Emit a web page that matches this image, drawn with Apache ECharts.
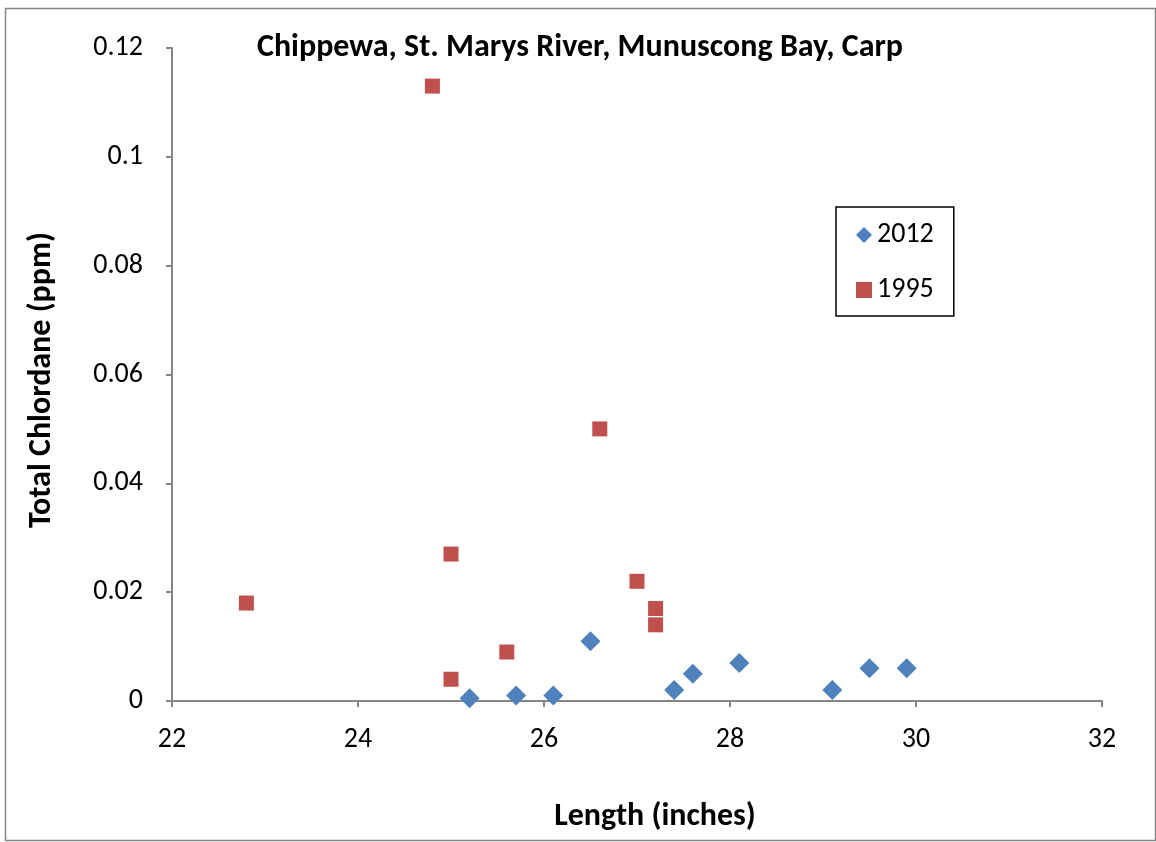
<!DOCTYPE html>
<html><head><meta charset="utf-8">
<script src="https://cdn.jsdelivr.net/npm/echarts@6/dist/echarts.min.js"></script>
<style>html,body{margin:0;padding:0;background:#fff}#c{width:1156px;height:842px}</style>
</head><body><div id="c"></div>
<script>
var titleText = 'Chippewa, St. Marys River, Munuscong Bay, Carp';
var xTitle = 'Length (inches)';
var yTitle = 'Total Chlordane (ppm)';
var len2012 = [25.2, 25.7, 26.1, 26.5, 27.4, 27.6, 28.1, 29.1, 29.5, 29.9];
var chl2012 = [0.0005, 0.001, 0.001, 0.011, 0.002, 0.005, 0.007, 0.002, 0.006, 0.006];
var len1995 = [22.8, 24.8, 25.0, 25.0, 25.6, 26.6, 27.0, 27.2, 27.2];
var chl1995 = [0.018, 0.113, 0.027, 0.004, 0.009, 0.050, 0.022, 0.017, 0.014];
var xTicks = {min: 22, max: 32, interval: 2};
var yTicks = {min: 0, max: 0.12, interval: 0.02};

function pairs(xs, ys){ return xs.map(function(x,i){ return [x, ys[i]]; }); }
var FONT = 'Carlito, Lato, "Open Sans", sans-serif';
var chart = echarts.init(document.getElementById('c'));
chart.setOption({
  animation: false,
  backgroundColor: '#fff',
  textStyle: {fontFamily: FONT},
  grid: {left: 172, right: 54, top: 48, bottom: 141, containLabel: false},
  xAxis: {type: 'value', min: xTicks.min, max: xTicks.max, interval: xTicks.interval,
    axisLine: {lineStyle: {color: '#868686', width: 2}},
    axisTick: {show: true, length: 6, lineStyle: {color: '#868686', width: 2}},
    axisLabel: {fontSize: 28, color: '#000', margin: 25, fontFamily: FONT},
    splitLine: {show: false}},
  yAxis: {type: 'value', min: yTicks.min, max: yTicks.max, interval: yTicks.interval,
    axisLine: {show: true, lineStyle: {color: '#868686', width: 2}},
    axisTick: {show: true, length: 6, lineStyle: {color: '#868686', width: 2}},
    axisLabel: {fontSize: 28, color: '#000', margin: 29, fontFamily: FONT,
      formatter: function(v){ return String(Math.round(v*1000)/1000); }},
    splitLine: {show: false}},
  legend: {orient: 'vertical', left: 836, top: 207,
    padding: [14, 20, 12, 20], itemGap: 27, itemWidth: 16, itemHeight: 16,
    borderColor: '#000', borderWidth: 1.5,
    textStyle: {fontSize: 28, color: '#000', fontFamily: FONT},
    data: [{name: '2012', icon: 'diamond'}, {name: '1995', icon: 'rect'}]},
  graphic: [
    {type: 'rect', left: 3, top: 6, shape: {width: 1150, height: 832},
      style: {fill: 'none', stroke: '#868686', lineWidth: 1.5}, silent: true},
    {type: 'text', x: 580, y: 48, style: {text: titleText, fontSize: 32, fontWeight: 'bold',
      fontFamily: FONT, fill: '#000', align: 'center', verticalAlign: 'middle'}},
    {type: 'text', x: 655, y: 817, style: {text: xTitle, fontSize: 32, fontWeight: 'bold',
      fontFamily: FONT, fill: '#000', align: 'center', verticalAlign: 'middle'}},
    {type: 'text', x: 42, y: 380, rotation: Math.PI/2, style: {text: yTitle, fontSize: 32,
      fontWeight: 'bold', fontFamily: FONT, fill: '#000', align: 'center', verticalAlign: 'middle'}}
  ],
  series: [
    {name: '2012', type: 'scatter', symbol: 'diamond', symbolSize: 20,
      itemStyle: {color: '#4F81BD', opacity: 1}, data: pairs(len2012, chl2012)},
    {name: '1995', type: 'scatter', symbol: 'rect', symbolSize: 15,
      itemStyle: {color: '#C0504D', opacity: 1}, data: pairs(len1995, chl1995)}
  ]
});
</script></body></html>
